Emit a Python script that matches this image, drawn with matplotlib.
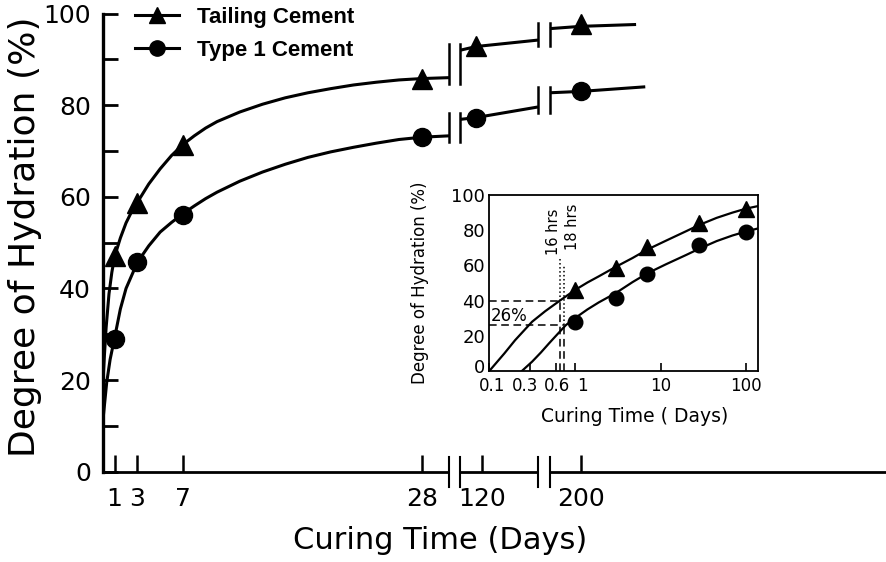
import numpy as np
import matplotlib
matplotlib.use("Agg")
import matplotlib.pyplot as plt
import matplotlib.transforms as mtransforms
from matplotlib.lines import Line2D
from matplotlib.ticker import NullLocator

plt.rcParams['font.family'] = ['DejaVu Sans']

# main chart: curing time (days) vs degree of hydration (%)
days_pts = [1, 3, 7, 28, 100, 200]
tailing_pts = [47.0, 58.6, 71.4, 85.7, 93.0, 97.8]
type1_pts = [28.9, 45.7, 56.1, 73.1, 77.3, 83.0]

# fitted curves, one list per axis segment
tail_days_a = [0, 0.1, 0.25, 0.5, 0.75, 1, 1.5, 2, 2.5, 3, 4, 5, 6, 7, 8, 9, 10, 12, 14, 16, 18,
               20, 22, 24, 26, 28, 30.4]
tail_vals_a = [21, 25.5, 31.5, 38.8, 43.5, 47.0, 51.0, 54.3, 56.8, 58.8, 62.8, 66.1, 69.0, 71.4,
               73.3, 75.0, 76.4, 78.5, 80.2, 81.6, 82.7, 83.6, 84.4, 85.0, 85.5, 85.8, 86.0]
tail_days_b = [60, 100, 170]
tail_vals_b = [92.0, 92.8, 94.2]
tail_days_c = [175, 200, 254]
tail_vals_c = [96.7, 97.2, 97.6]

t1_days_a = [0, 0.3, 0.6, 1, 1.5, 2, 3, 4, 5, 6, 7, 8, 9, 10, 12, 14, 16, 18, 20, 22, 24, 26,
             28, 30.4]
t1_vals_a = [12, 19.5, 24.5, 29.3, 35.5, 40.0, 45.7, 49.3, 52.3, 54.4, 56.3, 58.0, 59.6, 61.0,
             63.4, 65.4, 67.1, 68.6, 69.8, 70.8, 71.7, 72.5, 73.0, 73.3]
t1_days_b = [60, 100, 170]
t1_vals_b = [76.9, 77.3, 79.6]
t1_days_c = [175, 200, 263]
t1_vals_c = [82.7, 83.0, 84.0]

xtick_days = [1, 3, 7, 28, 120, 200]
xtick_labels = ['1', '3', '7', '28', '120', '200']

# broken time axis: anchors of the piecewise scale (days -> axis units)
day_anchor = [0, 30.4, 60, 100, 120, 170, 175, 200, 500]
pos_anchor = [0, 30.38, 31.39, 32.78, 33.25, 38.2, 39.25, 41.98, 68.87]
segments = [(0, 30.4), (60, 170), (175, 500)]

# inset (log time)
in_days = [1, 3, 7, 28, 100]
in_tailing = [46.0, 58.3, 70.3, 83.9, 91.9]
in_type1 = [28.0, 41.3, 55.0, 71.6, 79.2]
in_tail_x = [0.1, 0.15, 0.2, 0.316, 0.45, 0.667, 1.0, 1.4, 1.9, 3, 4.7, 7, 11.5, 20, 28.3, 45,
             69, 100, 137]
in_tail_y = [0, 10, 17.5, 28, 34, 40, 46, 50.3, 53.8, 59.2, 64.2, 69.0, 74, 79.5, 83, 87, 90,
             92.3, 93.7]
in_t1_x = [0.24, 0.316, 0.4, 0.5, 0.6, 0.78, 1.0, 1.4, 1.9, 3, 4.7, 7, 11.5, 20, 28.3, 45, 69,
           100, 137]
in_t1_y = [0, 5.3, 10.5, 15.8, 20, 26, 30, 35, 39, 44.3, 50.5, 55.5, 60.6, 66, 69.5, 73.8, 77,
           79.3, 81]
hrs = [16, 18]
hrs_level = [40, 26]
in_xticks = [0.1, 0.3, 0.6, 1, 10, 100]
in_xlabels = ['0.1', '0.3', '0.6', '1', '10', '100']


def fwd(x):
    return np.interp(x, day_anchor, pos_anchor)


def inv(x):
    return np.interp(x, pos_anchor, day_anchor)


fig = plt.figure(figsize=(8.87, 5.62), dpi=100)
ax = fig.add_axes([103.3 / 887, 90.3 / 562, 1 - 103.3 / 887, 458.2 / 562])
ax.set_xscale('function', functions=(fwd, inv))
ax.set_xlim(0, 500)
ax.set_ylim(0, 100)

lw = 2.2
tail_segs = [(tail_days_a, tail_vals_a), (tail_days_b, tail_vals_b), (tail_days_c, tail_vals_c)]
t1_segs = [(t1_days_a, t1_vals_a), (t1_days_b, t1_vals_b), (t1_days_c, t1_vals_c)]
for segs in [tail_segs, t1_segs]:
    for d, v in segs:
        ax.plot(d, v, color='black', lw=lw, solid_capstyle='butt', solid_joinstyle='round')
    # break bars on the curves
    for (d0, v0), (d1, v1) in zip(segs[:-1], segs[1:]):
        lo = min(v0[-1], v1[0]) - 1.3
        hi = max(v0[-1], v1[0]) + 1.3
        ax.plot([d0[-1], d0[-1]], [lo, hi], color='black', lw=1.8)
        ax.plot([d1[0], d1[0]], [lo, hi], color='black', lw=1.8)

ax.plot(days_pts, tailing_pts, ls='none', marker='^', ms=14, color='black', clip_on=False)
ax.plot(days_pts, type1_pts, ls='none', marker='o', ms=13, color='black', clip_on=False)

# x axis drawn in pieces with break marks
for s0, s1 in segments:
    ax.plot([s0, s1], [0, 0], color='black', lw=2, clip_on=False, solid_capstyle='butt')
for s0, s1 in segments[1:]:
    ax.plot([s0, s0], [-3.3, 3.3], color='black', lw=1.5, clip_on=False)
for s0, s1 in segments[:-1]:
    ax.plot([s1, s1], [-3.3, 3.3], color='black', lw=1.5, clip_on=False)

for side in ['top', 'right', 'bottom']:
    ax.spines[side].set_visible(False)
ax.spines['left'].set_linewidth(2.4)

ax.set_xticks(xtick_days)
ax.set_xticklabels(xtick_labels)
ax.xaxis.set_minor_locator(NullLocator())
ax.set_yticks(range(0, 101, 20))
ax.set_yticks(range(10, 100, 20), minor=True)
ax.tick_params(axis='x', which='both', direction='in', length=12, width=1.8, labelsize=18, pad=11)
ax.tick_params(axis='y', which='both', direction='in', length=11, width=2, labelsize=18, pad=9)

ax.set_xlabel('Curing Time (Days)', fontsize=22, va='center')
ax.xaxis.set_label_coords(0.4296, -0.151)
ax.set_ylabel('Degree of Hydration (%)', fontsize=26, va='center', ha='center')
ax.yaxis.set_label_coords(-0.0999, 0.513)

handles = [Line2D([], [], color='black', lw=lw, marker='^', ms=12),
           Line2D([], [], color='black', lw=lw, marker='o', ms=11)]
ax.legend(handles, ['Tailing Cement', 'Type 1 Cement'], loc='upper left',
          bbox_to_anchor=(135 / 887, 1 - 7 / 562), bbox_transform=fig.transFigure,
          frameon=False, prop={'family': 'Liberation Sans', 'weight': 'bold', 'size': 16},
          handlelength=2.0, handletextpad=0.8, labelspacing=0.55, borderpad=0, borderaxespad=0)

# inset
ax2 = fig.add_axes([489.3 / 887, 191 / 562, 268.7 / 887, 176 / 562])
ax2.set_xscale('log')
ax2.set_xlim(0.1, 137)
ax2.set_ylim(0, 100)
ax2.plot(in_tail_x, in_tail_y, color='black', lw=1.6)
ax2.plot(in_t1_x, in_t1_y, color='black', lw=1.6)
ax2.plot(in_days, in_tailing, ls='none', marker='^', ms=11, color='black', clip_on=False)
ax2.plot(in_days, in_type1, ls='none', marker='o', ms=10.5, color='black', clip_on=False)

tops = [65, 60]
for h, lev, top in zip(hrs, hrs_level, tops):
    xd = h / 24
    ax2.plot([0.1, xd], [lev, lev], color='black', lw=1.1, dashes=(5, 3))
    ax2.plot([xd, xd], [0, lev], color='black', lw=1.1, dashes=(5, 3))
    ax2.plot([xd, xd], [lev, top], color='black', lw=1.1, ls=':')
ax2.text(0.567, 66, '16 hrs', rotation=90, ha='center', va='bottom', fontsize=10.5)
ax2.text(0.93, 69, '18 hrs', rotation=90, ha='center', va='bottom', fontsize=10.5)
ax2.text(0.105, 31, '26%', ha='left', va='center', fontsize=12)

for sp in ax2.spines.values():
    sp.set_linewidth(1.3)
ax2.set_xticks(in_xticks)
ax2.set_xticklabels(in_xlabels)
ax2.xaxis.set_minor_locator(NullLocator())
ax2.set_yticks(range(0, 101, 20))
ax2.tick_params(axis='x', direction='in', length=6, width=1.2, labelsize=12, pad=4)
ax2.tick_params(axis='y', length=0, labelsize=13, pad=3)
# nudge the crowded small-time labels apart, as in the original
for lab, dx in zip(ax2.get_xticklabels(), [3, -5, 1, 7, 0, 0]):
    lab.set_transform(lab.get_transform() +
                      mtransforms.ScaledTranslation(dx / 100, 0, fig.dpi_scale_trans))
# lift the "0" so it clears the "0.1" below it
ylab0 = ax2.get_yticklabels()[0]
ylab0.set_transform(ylab0.get_transform() +
                    mtransforms.ScaledTranslation(0, 5 / 100, fig.dpi_scale_trans))
ax2.set_xlabel('Curing Time ( Days)', fontsize=13.5, va='center')
ax2.xaxis.set_label_coords(0.542, -0.26)
ax2.set_ylabel('Degree of Hydration (%)', fontsize=12, va='center', ha='center')
ax2.yaxis.set_label_coords(-0.258, 0.5)

fig.savefig('out.png', dpi=100)
